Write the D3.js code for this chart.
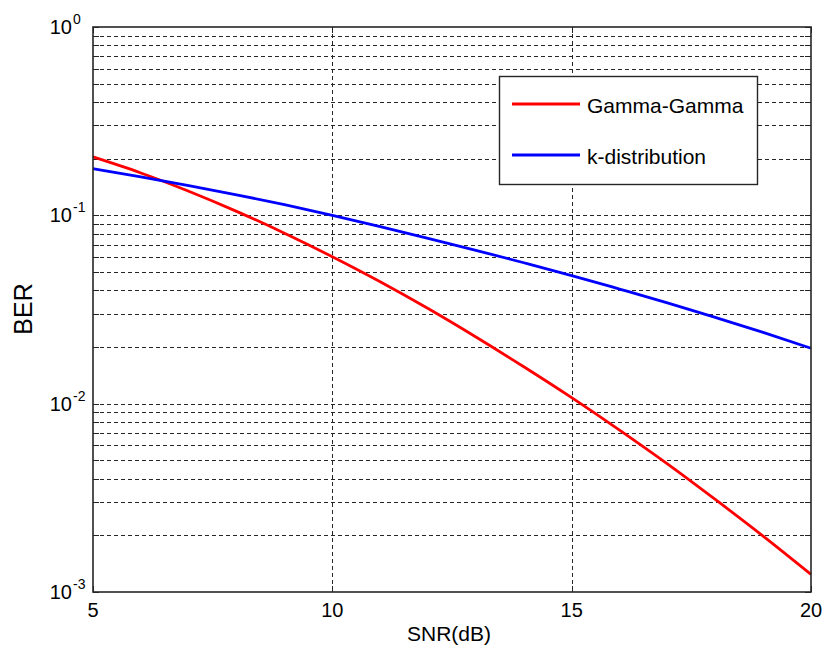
<!DOCTYPE html>
<html>
<head>
<meta charset="utf-8">
<script src="https://cdn.jsdelivr.net/npm/d3@7"></script>
<style>
  html, body { margin: 0; padding: 0; background: #fff; }
  svg { display: block; font-family: "Liberation Sans", Arial, sans-serif; }
</style>
</head>
<body>
<svg id="chart" width="825" height="648"></svg>
<script>
// SNR sweep (dB) and bit error rates for the two turbulence models
const snr = [5, 6, 7, 8, 9, 10, 11, 12, 13, 14, 15, 16, 17, 18, 19, 20];
const berGammaGamma = [0.2042, 0.1679, 0.1343, 0.1050, 0.0804, 0.0603, 0.0444, 0.0320, 0.0226, 0.0157, 0.01076, 0.00724, 0.00479, 0.00310, 0.00198, 0.00124];
const berKDist = [0.1770, 0.1600, 0.1439, 0.1285, 0.1140, 0.1000, 0.0871, 0.0755, 0.0652, 0.0560, 0.0479, 0.0406, 0.0343, 0.0287, 0.0239, 0.0197];
const seriesNames = ["Gamma-Gamma", "k-distribution"];
const seriesColors = ["#ff0000", "#0000ff"];
const xTicks = [5, 10, 15, 20];
const yDecades = [0, -1, -2, -3];

const svg = d3.select("#chart");
const plotLeft = 93, plotRight = 811, plotTop = 27, plotBottom = 592;

const x = d3.scaleLinear().domain([5, 20]).range([plotLeft, plotRight]);
const y = d3.scaleLog().domain([1e-3, 1]).range([plotBottom, plotTop]);

// minor values 2..9 x 10^k for each decade
const minorVals = [];
[-3, -2, -1].forEach(k => { for (let m = 2; m <= 9; m++) minorVals.push(m * Math.pow(10, k)); });
const majorVals = yDecades.map(k => Math.pow(10, k));

const gridColor = "#262626";
const grid = svg.append("g");
// horizontal grid at every minor and interior major value
minorVals.concat([1e-1, 1e-2]).forEach(v => {
  grid.append("line")
    .attr("x1", plotLeft).attr("x2", plotRight)
    .attr("y1", Math.round(y(v)) + 0.5).attr("y2", Math.round(y(v)) + 0.5)
    .attr("stroke", gridColor).attr("stroke-width", 1)
    .attr("stroke-dasharray", "4,3");
});
// vertical grid at interior x ticks
xTicks.filter(t => t > 5 && t < 20).forEach(t => {
  grid.append("line")
    .attr("x1", Math.round(x(t)) + 0.5).attr("x2", Math.round(x(t)) + 0.5)
    .attr("y1", plotTop).attr("y2", plotBottom)
    .attr("stroke", gridColor).attr("stroke-width", 1)
    .attr("stroke-dasharray", "4,3");
});

// inward tick marks on all four sides
const ticks = svg.append("g").attr("stroke", gridColor).attr("stroke-width", 1);
majorVals.concat(minorVals).forEach(v => {
  const yy = Math.round(y(v)) + 0.5;
  ticks.append("line").attr("x1", plotLeft).attr("x2", plotLeft + 6).attr("y1", yy).attr("y2", yy);
  ticks.append("line").attr("x1", plotRight).attr("x2", plotRight - 6).attr("y1", yy).attr("y2", yy);
});
xTicks.forEach(t => {
  const xx = Math.round(x(t)) + 0.5;
  ticks.append("line").attr("x1", xx).attr("x2", xx).attr("y1", plotBottom).attr("y2", plotBottom - 6);
  ticks.append("line").attr("x1", xx).attr("x2", xx).attr("y1", plotTop).attr("y2", plotTop + 6);
});

// curves
const line = d3.line()
  .x(d => x(d[0]))
  .y(d => y(d[1]))
  .curve(d3.curveMonotoneX);

[berGammaGamma, berKDist].forEach((vals, i) => {
  svg.append("path")
    .datum(snr.map((s, j) => [s, vals[j]]))
    .attr("fill", "none")
    .attr("stroke", seriesColors[i])
    .attr("stroke-width", 2.8)
    .attr("stroke-linejoin", "round")
    .attr("d", line);
});

// axes box
svg.append("rect")
  .attr("x", plotLeft).attr("y", plotTop)
  .attr("width", plotRight - plotLeft).attr("height", plotBottom - plotTop)
  .attr("fill", "none").attr("stroke", "#262626").attr("stroke-width", 1.6);

// x tick labels
xTicks.forEach(t => {
  svg.append("text")
    .attr("x", x(t)).attr("y", 617)
    .attr("text-anchor", "middle")
    .attr("font-size", 20).attr("fill", "#000")
    .text(t);
});

// y tick labels as powers of ten
yDecades.forEach(k => {
  const yy = y(Math.pow(10, k));
  svg.append("text")
    .attr("x", 72).attr("y", yy + 7)
    .attr("text-anchor", "end")
    .attr("font-size", 20).attr("fill", "#000")
    .text("10");
  svg.append("text")
    .attr("x", 73).attr("y", yy - 3)
    .attr("text-anchor", "start")
    .attr("font-size", 14).attr("fill", "#000")
    .text(k === 0 ? "0" : String(k));
});

// axis titles
svg.append("text")
  .attr("x", 449).attr("y", 641)
  .attr("text-anchor", "middle")
  .attr("font-size", 21).attr("fill", "#000")
  .text("SNR(dB)");

svg.append("text")
  .attr("transform", "translate(32,309) rotate(-90)")
  .attr("text-anchor", "middle")
  .attr("font-size", 25).attr("fill", "#000")
  .text("BER");

// legend
const legend = svg.append("g");
legend.append("rect")
  .attr("x", 499.5).attr("y", 76.5)
  .attr("width", 258).attr("height", 108)
  .attr("fill", "#fff").attr("stroke", "#262626").attr("stroke-width", 1.4);
const legendY = [104, 155];
seriesNames.forEach((name, i) => {
  legend.append("line")
    .attr("x1", 512).attr("x2", 580)
    .attr("y1", legendY[i]).attr("y2", legendY[i])
    .attr("stroke", seriesColors[i]).attr("stroke-width", 2.8);
  legend.append("text")
    .attr("x", 587).attr("y", legendY[i] + 9)
    .attr("font-size", 21).attr("fill", "#000")
    .text(name);
});
</script>
</body>
</html>
